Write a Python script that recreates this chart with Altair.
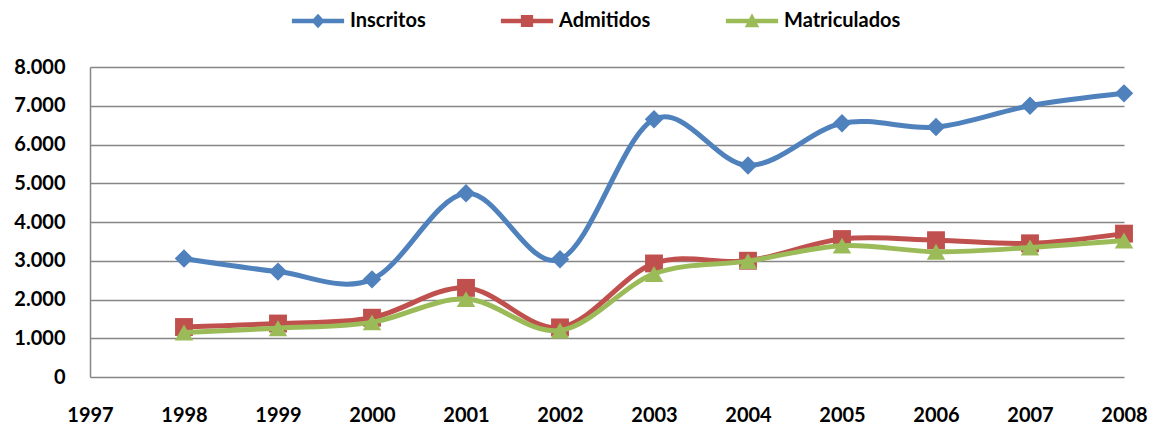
import altair as alt
import pandas as pd

years = [1998, 1999, 2000, 2001, 2002, 2003, 2004, 2005, 2006, 2007, 2008]
inscritos = [3060, 2720, 2520, 4740, 3040, 6650, 5460, 6550, 6450, 7000, 7320]
admitidos = [1290, 1380, 1530, 2300, 1280, 2930, 3000, 3560, 3530, 3450, 3700]
matriculados = [1150, 1260, 1410, 2010, 1200, 2660, 2990, 3390, 3230, 3340, 3520]

series_names = ["Inscritos", "Admitidos", "Matriculados"]
series_colors = ["#4F81BD", "#C0504D", "#9BBB59"]
marker_shapes = ["diamond", "square", "triangle-up"]
marker_sizes = [340, 320, 340]

line_path = "M-2.9,-0.25L2.9,-0.25L2.9,0.25L-2.9,0.25Z"
legend_paths = [
    line_path + "M0,-0.8L0.75,0L0,0.8L-0.75,0Z",
    line_path + "M-0.68,-0.68L0.68,-0.68L0.68,0.68L-0.68,0.68Z",
    line_path + "M0,-0.85L0.8,0.7L-0.8,0.7Z",
]

rows = []
for name, vals in zip(series_names, [inscritos, admitidos, matriculados]):
    for yr, v in zip(years, vals):
        rows.append({"Anio": yr, "Valor": v, "Serie": name})
df = pd.DataFrame(rows)

FONT = "Lato"

x_enc = alt.X(
    "Anio:Q",
    scale=alt.Scale(domain=[1997, 2008], nice=False, zero=False),
    axis=alt.Axis(
        values=list(range(1997, 2009)), format="d", title=None, grid=False,
        domain=False, ticks=False, labelPadding=28, labelFont=FONT,
        labelFontWeight="bold", labelFontSize=20, labelColor="black",
        labelFlush=False, labelOverlap=False,
    ),
)
y_enc = alt.Y(
    "Valor:Q",
    scale=alt.Scale(domain=[0, 8000], nice=False),
    axis=alt.Axis(
        values=list(range(0, 8001, 1000)),
        labelExpr="replace(format(datum.value, ','), ',', '.')",
        title=None, grid=True, gridColor="#868686", gridWidth=1.5,
        domainColor="#868686", domainWidth=1.5, ticks=False, labelPadding=25,
        labelFont=FONT, labelFontWeight="bold", labelFontSize=20,
        labelColor="black",
    ),
)

legend_def = alt.Legend(
    title=None, orient="none", legendX=218, legendY=-56, direction="horizontal",
    labelFont=FONT, labelFontSize=20, labelFontWeight="bold", labelColor="black",
    symbolSize=324, symbolStrokeWidth=0, symbolOpacity=1, labelOffset=22,
    columnPadding=74, padding=0,
)

legend_layer = (
    alt.Chart(df)
    .transform_filter("false")
    .mark_point(filled=True, opacity=1)
    .encode(
        x=x_enc, y=y_enc,
        color=alt.Color("Serie:N", scale=alt.Scale(domain=series_names, range=series_colors), legend=legend_def),
        shape=alt.Shape("Serie:N", scale=alt.Scale(domain=series_names, range=legend_paths), legend=legend_def),
    )
)

layers = [legend_layer]
for name, color, shp, sz in zip(series_names, series_colors, marker_shapes, marker_sizes):
    base = alt.Chart(df).transform_filter(alt.datum.Serie == name)
    layers.append(
        base.mark_line(interpolate="cardinal", strokeWidth=5, color=color).encode(x=x_enc, y=y_enc)
    )
    layers.append(
        base.mark_point(filled=True, shape=shp, size=sz, color=color, opacity=1).encode(x=x_enc, y=y_enc)
    )

chart = (
    alt.layer(*layers)
    .properties(
        width=1034, height=310, autosize="none",
        padding={"left": 82, "top": 59, "right": 24, "bottom": 50},
        background="white",
    )
    .configure_view(stroke=None)
)

chart.save("out.html", embed_options={"renderer": "svg", "actions": False})
